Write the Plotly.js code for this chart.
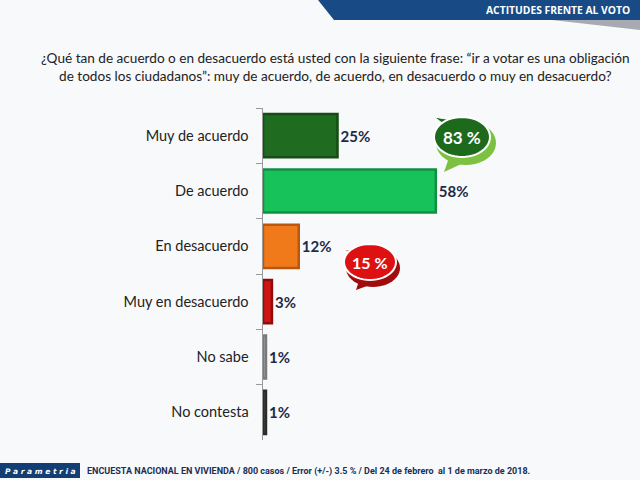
<!DOCTYPE html>
<html>
<head>
<meta charset="utf-8">
<script src="https://cdn.plot.ly/plotly-3.0.1.min.js"></script>
<style>html,body{margin:0;padding:0;background:#f8f9fb;}#chart{width:640px;height:480px;}</style>
</head>
<body>
<div id="chart"></div>
<script>
// Data
const categories = ["Muy de acuerdo", "De acuerdo", "En desacuerdo", "Muy en desacuerdo", "No sabe", "No contesta"];
const values = [25, 58, 12, 3, 1, 1];
const barColors = ["#1f6b1f", "#17c25a", "#f07a1a", "#d01414", "#a9a9a9", "#474747"];
const edgeColors = ["#154d15", "#109044", "#b85810", "#8e0c0c", "#7a7a7a", "#2b2b2b"];
const bubbleLabels = ["83 %", "15 %"];
const titleLines = ["¿Qué tan de acuerdo o en desacuerdo está usted con la siguiente frase: “ir a votar es una obligación", "de todos los ciudadanos”: muy de acuerdo, de acuerdo, en desacuerdo o muy en desacuerdo?"];
const headerText = "ACTITUDES FRENTE AL VOTO";
const brandText = "Parametria";
const footerText = "ENCUESTA NACIONAL EN VIVIENDA / 800 casos / Error (+/-) 3.5 % / Del 24 de febrero  al 1 de marzo de 2018.";

const W = 640, H = 480;
const px = x => x / W;
const py = y => 1 - y / H;
function path(pts) {
  return 'M' + pts.map(p => px(p[0]).toFixed(5) + ',' + py(p[1]).toFixed(5)).join(' L') + ' Z';
}
function ellipsePath(cx, cy, rx, ry) {
  const pts = [];
  for (let i = 0; i < 48; i++) {
    const a = i / 48 * 2 * Math.PI;
    pts.push([cx + rx * Math.cos(a), cy + ry * Math.sin(a)]);
  }
  return path(pts);
}

const trace = {
  type: 'bar',
  orientation: 'h',
  x: values,
  y: categories,
  marker: {color: barColors, line: {color: edgeColors, width: 2.5}},
  width: 0.78,
  text: values.map(v => v + '%'),
  textposition: 'outside',
  textfont: {family: 'Lato, sans-serif', size: 15, color: '#1e2a48', weight: 'bold'},
  cliponaxis: false,
  hoverinfo: 'skip'
};

const shapes = [
  // header band
  {type: 'path', xref: 'paper', yref: 'paper', path: path([[552, 20], [640, 20], [640, 30]]), fillcolor: '#a7aab0', line: {width: 0}, layer: 'above'},
  {type: 'path', xref: 'paper', yref: 'paper', path: path([[318, 0], [640, 0], [640, 20], [334, 20]]), fillcolor: '#184a86', line: {width: 0}, layer: 'above'},
  // footer brand box
  {type: 'path', xref: 'paper', yref: 'paper', path: path([[0, 463], [80, 463], [80, 478], [0, 478]]), fillcolor: '#123e74', line: {width: 0}, layer: 'above'},
  // green bubble
  {type: 'path', xref: 'paper', yref: 'paper', path: ellipsePath(466, 143, 30, 22), fillcolor: '#7cc142', line: {width: 0}, layer: 'above'},
  {type: 'path', xref: 'paper', yref: 'paper', path: path([[450, 155], [444, 172], [470, 160]]), fillcolor: '#7cc142', line: {width: 0}, layer: 'above'},
  {type: 'path', xref: 'paper', yref: 'paper', path: path([[445, 125], [434, 117], [452, 120]]), fillcolor: '#1d6a1d', line: {color: '#ffffff', width: 1}, layer: 'above'},
  {type: 'path', xref: 'paper', yref: 'paper', path: ellipsePath(462, 137, 28, 20), fillcolor: '#1d6a1d', line: {color: '#ffffff', width: 2}, layer: 'above'},
  // red bubble
  {type: 'path', xref: 'paper', yref: 'paper', path: ellipsePath(373, 268, 27, 19), fillcolor: '#a00c0c', line: {width: 0}, layer: 'above'},
  {type: 'path', xref: 'paper', yref: 'paper', path: path([[360, 278], [356, 290], [378, 282]]), fillcolor: '#a00c0c', line: {width: 0}, layer: 'above'},
  {type: 'path', xref: 'paper', yref: 'paper', path: path([[352, 254], [344, 250], [356, 250]]), fillcolor: '#dd1111', line: {color: '#ffffff', width: 1}, layer: 'above'},
  {type: 'path', xref: 'paper', yref: 'paper', path: ellipsePath(370, 262, 26, 18), fillcolor: '#dd1111', line: {color: '#ffffff', width: 2}, layer: 'above'}
];

const annotations = [
  {xref: 'paper', yref: 'paper', x: px(632), y: py(10), xanchor: 'right', yanchor: 'middle', showarrow: false,
   text: '<b>' + headerText + '</b>', font: {family: 'Open Sans, sans-serif', size: 10.3, color: '#ffffff'}},
  {xref: 'paper', yref: 'paper', x: px(335), y: py(67), xanchor: 'center', yanchor: 'middle', showarrow: false,
   text: titleLines.join('<br>'), align: 'center', font: {family: 'Lato, sans-serif', size: 13.6, color: '#222222'}},
  {xref: 'paper', yref: 'paper', x: px(40), y: py(471), xanchor: 'center', yanchor: 'middle', showarrow: false,
   text: '<b><i>' + brandText.split('').join(' ') + '</i></b>', font: {family: 'DejaVu Sans, sans-serif', size: 7.5, color: '#ffffff'}},
  {xref: 'paper', yref: 'paper', x: px(85), y: py(471), xanchor: 'left', yanchor: 'middle', showarrow: false,
   text: '<b>' + footerText + '</b>', font: {family: 'Liberation Sans Narrow, Roboto, sans-serif', size: 9, color: '#1b2f55'}},
  {xref: 'paper', yref: 'paper', x: px(462), y: py(137), xanchor: 'center', yanchor: 'middle', showarrow: false,
   text: bubbleLabels[0], font: {family: 'Lato, sans-serif', size: 17, color: '#ffffff', weight: 'bold'}},
  {xref: 'paper', yref: 'paper', x: px(370), y: py(262), xanchor: 'center', yanchor: 'middle', showarrow: false,
   text: bubbleLabels[1], font: {family: 'Lato, sans-serif', size: 16, color: '#ffffff', weight: 'bold'}}
];

const layout = {
  width: W, height: H,
  margin: {l: 0, r: 0, t: 0, b: 0},
  paper_bgcolor: '#f8f9fb',
  plot_bgcolor: 'rgba(0,0,0,0)',
  showlegend: false,
  xaxis: {domain: [263 / W, 561 / W], range: [0, 100], visible: false, fixedrange: true},
  yaxis: {
    domain: [40 / H, 372 / H], autorange: 'reversed', type: 'category',
    showline: true, linecolor: '#9a9a9a', linewidth: 1.5,
    ticks: 'outside', ticklen: 6, tickcolor: '#9a9a9a', tickson: 'boundaries',
    ticklabelstandoff: 10,
    tickfont: {family: 'Lato, sans-serif', size: 14.5, color: '#222222'},
    showgrid: false, zeroline: false, fixedrange: true
  },
  shapes: shapes,
  annotations: annotations
};

Plotly.newPlot('chart', [trace], layout, {staticPlot: true, displayModeBar: false});
</script>
</body>
</html>
